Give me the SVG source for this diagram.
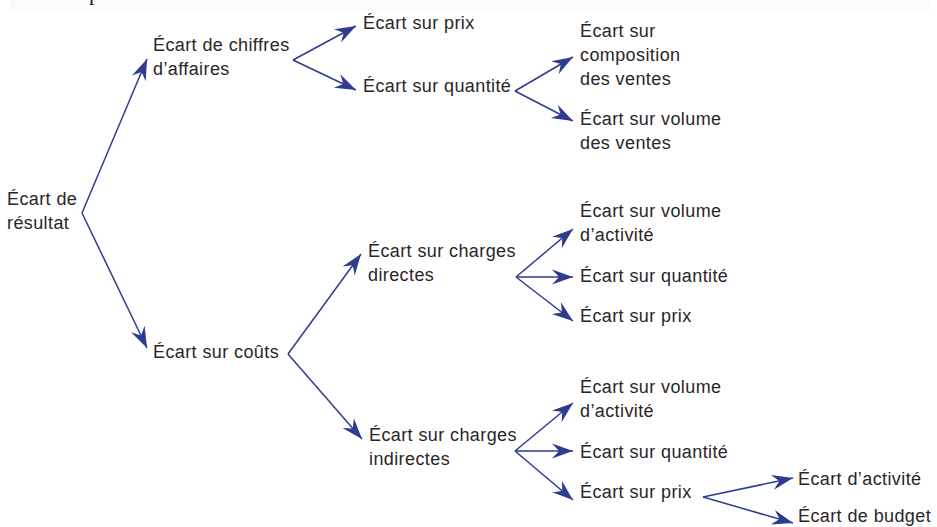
<svg xmlns="http://www.w3.org/2000/svg" width="937" height="527" viewBox="0 0 937 527">
<style>
  .t { font-family: "Liberation Sans", Arial, Helvetica, sans-serif; font-size: 18px; letter-spacing: 0.4px; fill: #2a2627; }
  .c line { stroke: #2e3b8f; stroke-width: 1.5; fill: none; marker-end: url(#ah); }
</style>
<defs>
  <marker id="ah" viewBox="-22 -9 23 18" refX="0" refY="0" markerWidth="23" markerHeight="18" markerUnits="userSpaceOnUse" orient="auto">
    <path d="M0,0 L-21,-7.5 L-14,0 L-21,7.5 Z" fill="#2e3b8f"/>
  </marker>
</defs>
<rect x="0" y="0" width="937" height="527" fill="#ffffff"/>
<rect x="10" y="0" width="920" height="10" fill="#fbfbfb"/>
<text x="89" y="-0.5" font-family="'Liberation Serif', 'Times New Roman', serif" font-size="22" fill="#231f20">p</text>

<g class="c" id="connectors">
  <line x1="82" y1="213" x2="147" y2="59"/>
  <line x1="82" y1="213" x2="147" y2="348"/>
  <line x1="293" y1="60" x2="356" y2="26"/>
  <line x1="293" y1="60" x2="356" y2="90"/>
  <line x1="515" y1="91" x2="573" y2="57"/>
  <line x1="515" y1="91" x2="573" y2="121"/>
  <line x1="288" y1="354" x2="361" y2="254"/>
  <line x1="288" y1="354" x2="362" y2="439"/>
  <line x1="516" y1="277" x2="573" y2="229"/>
  <line x1="516" y1="277" x2="573" y2="277"/>
  <line x1="516" y1="277" x2="573" y2="321"/>
  <line x1="515" y1="451" x2="573" y2="403"/>
  <line x1="515" y1="451" x2="573" y2="451"/>
  <line x1="515" y1="451" x2="573" y2="500"/>
  <line x1="703" y1="497" x2="793" y2="478"/>
  <line x1="703" y1="497" x2="793" y2="523"/>
</g>

<g id="n-resultat"><text class="t" x="7" y="205">Écart de</text><text class="t" x="7" y="229">résultat</text></g>
<g id="n-ca"><text class="t" x="153" y="51">Écart de chiffres</text><text class="t" x="153" y="75">d’affaires</text></g>
<g id="n-ca-prix"><text class="t" x="363" y="29">Écart sur prix</text></g>
<g id="n-ca-quantite"><text class="t" x="363" y="92">Écart sur quantité</text></g>
<g id="n-composition"><text class="t" x="580" y="37">Écart sur</text><text class="t" x="580" y="61">composition</text><text class="t" x="580" y="85">des ventes</text></g>
<g id="n-volume-ventes"><text class="t" x="580" y="125">Écart sur volume</text><text class="t" x="580" y="149">des ventes</text></g>
<g id="n-couts"><text class="t" x="153" y="358">Écart sur coûts</text></g>
<g id="n-directes"><text class="t" x="368" y="257">Écart sur charges</text><text class="t" x="368" y="281">directes</text></g>
<g id="n-dir-volume"><text class="t" x="580" y="217">Écart sur volume</text><text class="t" x="580" y="241">d’activité</text></g>
<g id="n-dir-quantite"><text class="t" x="580" y="282">Écart sur quantité</text></g>
<g id="n-dir-prix"><text class="t" x="580" y="322">Écart sur prix</text></g>
<g id="n-indirectes"><text class="t" x="369" y="441">Écart sur charges</text><text class="t" x="369" y="465">indirectes</text></g>
<g id="n-ind-volume"><text class="t" x="580" y="393">Écart sur volume</text><text class="t" x="580" y="417">d’activité</text></g>
<g id="n-ind-quantite"><text class="t" x="580" y="458">Écart sur quantité</text></g>
<g id="n-ind-prix"><text class="t" x="580" y="498">Écart sur prix</text></g>
<g id="n-activite"><text class="t" x="798" y="485">Écart d’activité</text></g>
<g id="n-budget"><text class="t" x="798" y="522">Écart de budget</text></g>
</svg>
